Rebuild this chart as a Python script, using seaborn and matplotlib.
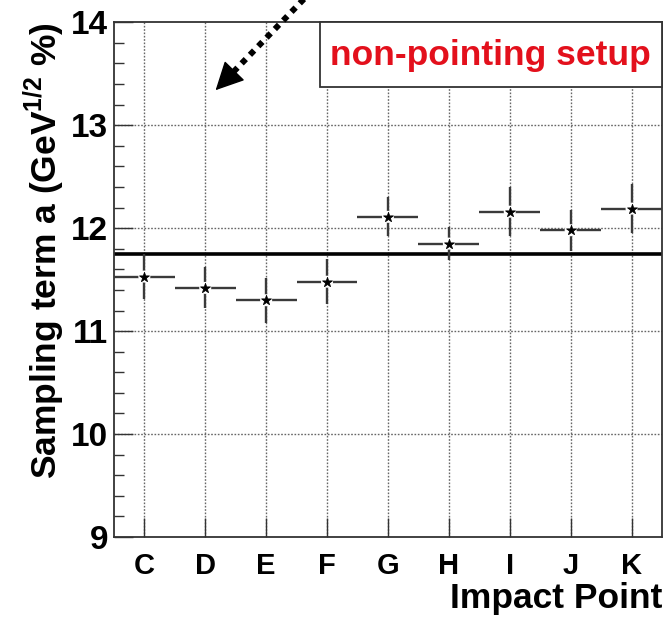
import numpy as np
import pandas as pd
import seaborn as sns
import matplotlib.pyplot as plt
from matplotlib.patches import Rectangle
from matplotlib.ticker import MultipleLocator

# valeurs
points = ['C', 'D', 'E', 'F', 'G', 'H', 'I', 'J', 'K']
sampling_a = [11.53, 11.42, 11.30, 11.48, 12.11, 11.85, 12.16, 11.98, 12.19]
sampling_err = [0.22, 0.20, 0.22, 0.22, 0.19, 0.16, 0.24, 0.20, 0.24]
bin_half = [0.5] * 9
mean_a = 11.75

sns.set_style("white")
plt.rcParams['font.family'] = ['Liberation Sans', 'DejaVu Sans']
plt.rcParams['font.weight'] = 'bold'
plt.rcParams['text.color'] = 'black'
plt.rcParams['axes.labelcolor'] = 'black'
plt.rcParams['xtick.color'] = 'black'
plt.rcParams['ytick.color'] = 'black'
plt.rcParams['mathtext.fontset'] = 'custom'
plt.rcParams['mathtext.rm'] = 'Liberation Sans:bold'
plt.rcParams['mathtext.bf'] = 'Liberation Sans:bold'

df = pd.DataFrame({'point': points, 'a': sampling_a, 'err': sampling_err})
df['pos'] = np.arange(len(points))

fig = plt.figure(figsize=(6.66, 6.18), dpi=100)
ax = fig.add_axes([0.171, 0.131, 0.823, 0.833])

# grille pointillee
for p in df['pos']:
    ax.axvline(p, color='#666666', ls=(0, (1.2, 1.2)), lw=1, zorder=0)
for yv in [10, 11, 12, 13]:
    ax.axhline(yv, color='#666666', ls=(0, (1.2, 1.2)), lw=1, zorder=0)

ax.axhline(mean_a, color='black', lw=2.6, zorder=2)

ax.errorbar(df['pos'], df['a'], xerr=bin_half, yerr=df['err'], fmt='none',
            ecolor='#3a3a3a', elinewidth=1.7, capsize=0, zorder=3)
sns.scatterplot(data=df, x='pos', y='a', marker='o', s=75, color='white',
                edgecolor='none', ax=ax, zorder=4, legend=False)
sns.scatterplot(data=df, x='pos', y='a', marker='*', s=55, color='black',
                edgecolor='black', ax=ax, zorder=5, legend=False)

ax.set_xlim(-0.5, len(points) - 0.5)
ax.set_ylim(9, 14)
ax.set_xticks(df['pos'])
ax.set_xticklabels(points)
ax.yaxis.set_major_locator(MultipleLocator(1))
ax.yaxis.set_minor_locator(MultipleLocator(0.2))
ax.tick_params(axis='x', direction='in', length=14, width=1, color='#333333',
               labelsize=21, pad=11, bottom=True)
ax.tick_params(axis='y', which='major', direction='in', length=14, width=1,
               color='#333333', labelsize=24, pad=4, left=True)
ax.tick_params(axis='y', which='minor', direction='in', length=7, width=1,
               color='#333333', left=True)
for s in ax.spines.values():
    s.set_color('#333333')
    s.set_linewidth(1.3)

ax.set_ylabel(r'Sampling term a (GeV$^{1/2}$ %)', fontsize=25.5,
              fontweight='bold', loc='top', labelpad=4)
ax.set_xlabel('Impact Point', fontsize=25.5, fontweight='bold', loc='right',
              labelpad=1)

# cadre de legende
ax.add_patch(Rectangle((0.376, 0.874), 0.624, 0.126, transform=ax.transAxes,
                       facecolor='white', edgecolor='#333333', lw=1.3,
                       zorder=6, clip_on=False))
ax.text(0.686, 0.936, 'non-pointing setup', transform=ax.transAxes,
        ha='center', va='center', color='#e3101c', fontsize=25.5,
        fontweight='bold', zorder=7)

# fleche pointillee : trait + pointe
arrow_start = (2.66, 14.25)
arrow_base = (1.45, 13.51)
arrow_tip = (1.17, 13.34)
ax.plot([arrow_start[0], arrow_base[0]], [arrow_start[1], arrow_base[1]],
        color='black', lw=4.3, ls=(0, (1, 1)), dash_capstyle='butt',
        clip_on=False, zorder=8)
ax.annotate('', xy=arrow_tip, xytext=arrow_base,
            arrowprops=dict(arrowstyle='-|>,head_length=1.0,head_width=0.5',
                            mutation_scale=18, color='black', lw=1,
                            shrinkA=0, shrinkB=0),
            annotation_clip=False, zorder=8)

fig.savefig('out.png', dpi=100)
